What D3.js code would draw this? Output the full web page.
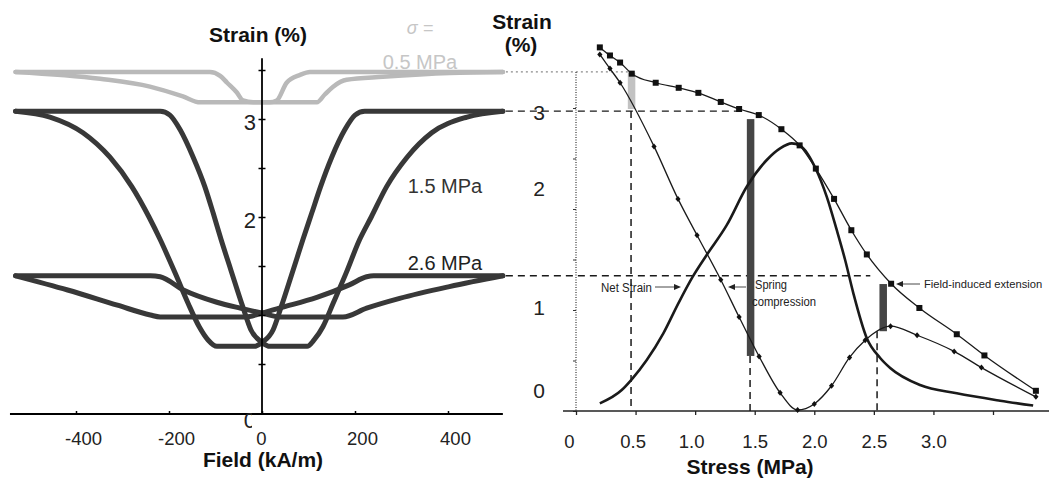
<!DOCTYPE html>
<html><head><meta charset="utf-8">
<script src="https://cdn.jsdelivr.net/npm/d3@7"></script>
<style>body{margin:0;background:#fff}svg{display:block;font-family:"Liberation Sans",Arial,sans-serif}</style>
</head><body><svg id="c" width="1049" height="481"></svg>
<script>
// ---------- data ----------
const fieldTicks = [-400, -200, 0, 200, 400];
const leftStrainTicks = [0.5, 1, 1.5, 2, 2.5, 3, 3.5];
const leftStrainLabels = [0, 2, 3];
const stressTicks = [0, 0.5, 1, 1.5, 2, 2.5, 3, 3.5];
const stressTickLabels = ["0", "0.5", "1.0", "1.5", "2.0", "2.5", "3.0"];
const rightStrainTicks = [0, 0.5, 1, 1.5, 2, 2.5, 3];
const rightStrainLabels = ["0", "1", "2", "3"];
const rightStrainLabelAt = [0.2, 1.02, 2.2, 2.96];

// strain-field loops [field kA/m, strain %], each branch sorted by field
const loop05Up = [[-530,3.48],[-112,3.48],[-90,3.44],[-75,3.37],[-54,3.27],[-41,3.19],[-19,3.17],[118,3.17],[135,3.25],[153,3.33],[182,3.40],[260,3.43],[404,3.47],[518,3.48]];
const loop05Down = [[-530,3.48],[-348,3.41],[-241,3.33],[-170,3.23],[-133,3.17],[17,3.17],[32,3.19],[53,3.37],[82,3.45],[103,3.48],[518,3.48]];
const loop15Up = [[-530,3.08],[-219,3.08],[-198,3.04],[-176,2.89],[-148,2.61],[-123,2.31],[-105,2.04],[-88,1.77],[-67,1.46],[-41,1.08],[-24,0.85],[0,0.72],[17,0.68],[97,0.68],[112,0.745],[131,0.88],[153,1.12],[181,1.43],[210,1.77],[235,2.0],[268,2.31],[312,2.61],[365,2.86],[441,3.02],[518,3.08]];
const loop15Down = [[-530,3.08],[-456,3.02],[-385,2.86],[-327,2.61],[-280,2.31],[-243,2.0],[-219,1.77],[-187,1.43],[-159,1.12],[-135,0.88],[-116,0.745],[-97,0.68],[-17,0.68],[0,0.72],[24,0.85],[41,1.08],[67,1.46],[88,1.77],[107,2.04],[126,2.31],[150,2.61],[178,2.89],[200,3.04],[221,3.08],[518,3.08]];
const loop26Up = [[-530,1.40],[-240,1.40],[-219,1.39],[-169,1.255],[-97,1.13],[-47,1.07],[0,1.02],[39,0.98],[174,0.98],[225,1.07],[296,1.17],[403,1.29],[518,1.40]];
const loop26Down = [[-530,1.40],[-418,1.255],[-311,1.10],[-240,1.00],[-219,0.98],[-36,0.98],[0,1.02],[45,1.08],[118,1.18],[189,1.31],[225,1.39],[240,1.40],[518,1.40]];
const loopSaturation = [3.48, 3.08, 1.40];

// stress curves
const extStress = [0.20,0.285,0.37,0.468,0.669,0.862,1.027,1.215,1.369,1.534,1.724,1.877,2.013,2.166,2.311,2.441,2.645,2.882,3.196,3.428,3.86];
const extStrain = [3.60,3.52,3.45,3.34,3.25,3.20,3.15,3.06,2.99,2.93,2.79,2.63,2.40,2.10,1.79,1.55,1.26,1.02,0.76,0.55,0.20];
const springStress = [0.20,0.285,0.37,0.655,0.856,1.016,1.215,1.369,1.537,1.713,1.86,2.0,2.145,2.296,2.427,2.64,2.863,3.174,3.403,3.86];
const springStrain = [3.53,3.39,3.25,2.62,2.10,1.74,1.30,0.93,0.54,0.18,0.01,0.07,0.25,0.53,0.70,0.84,0.75,0.59,0.43,0.14];
const netStress = [0.20,0.384,0.468,0.594,0.733,0.859,0.980,1.097,1.265,1.433,1.601,1.713,1.811,1.881,2.013,2.105,2.189,2.259,2.328,2.441,2.553,2.637,2.888,3.196,3.56,3.837];
const netStrain = [0.076,0.208,0.314,0.505,0.769,1.066,1.33,1.545,1.84,2.22,2.485,2.60,2.65,2.627,2.396,2.12,1.79,1.495,1.165,0.72,0.525,0.426,0.257,0.175,0.102,0.054];

// bars & guide lines
const barStress = [0.466, 1.465, 2.578];
const barTop = [3.35, 2.89, 1.257];
const barBottom = [2.99, 0.545, 0.79];
const guideStress = [0.462, 1.461, 2.527];
const guideTop = [2.97, 0.545, 0.79];
const connectorEnd = [0.462, 1.37, 2.47];

// ---------- drawing ----------
const svg = d3.select("#c");
const xL = d3.scaleLinear([-400, 400], [76, 448]);
const yL = d3.scaleLinear([0, 3], [413, 119]);
const xR = d3.scaleLinear([0, 3.5], [576, 993]);
const yR = d3.scaleLinear([0, 3], [411, 108]);

const dark = "#383838", gray = "#b9b9b9", ink = "#1a1a1a";

const conn = svg.append("g");
loopSaturation.forEach((s, i) => {
  conn.append("line")
    .attr("x1", xL(518) + 3).attr("x2", xR(connectorEnd[i]))
    .attr("y1", yL(s)).attr("y2", yL(s))
    .attr("stroke", i === 0 ? "#8a8a8a" : ink)
    .attr("stroke-width", i === 0 ? 1.2 : 1.4)
    .attr("stroke-dasharray", i === 0 ? "2,3" : "7,5");
});

// ---- left panel ----
const lineL = d3.line().x(d => xL(d[0])).y(d => yL(d[1])).curve(d3.curveMonotoneX);
const loops = [
  {up: loop05Up, down: loop05Down, c: gray, w: 4.5},
  {up: loop15Up, down: loop15Down, c: dark, w: 5},
  {up: loop26Up, down: loop26Down, c: dark, w: 5}
];
const gl = svg.append("g");
loops.forEach(l => {
  [l.up, l.down].forEach(b => gl.append("path").attr("d", lineL(b))
    .attr("fill", "none").attr("stroke", l.c).attr("stroke-width", l.w)
    .attr("stroke-linejoin", "round").attr("stroke-linecap", "round"));
});

svg.append("line").attr("x1", xL(0)).attr("x2", xL(0)).attr("y1", yL(3.62)).attr("y2", yL(-0.003))
  .attr("stroke", "#000").attr("stroke-width", 1.8);
svg.append("line").attr("x1", xL(-542)).attr("x2", xL(518)).attr("y1", yL(-0.01)).attr("y2", yL(-0.01))
  .attr("stroke", "#000").attr("stroke-width", 1.8);
const ayL = svg.append("g").attr("transform", `translate(${xL(0)},0)`)
  .call(d3.axisLeft(yL).tickValues(leftStrainTicks).tickFormat("").tickSize(3));
ayL.select(".domain").remove();
ayL.selectAll(".tick line").attr("x1", -3.5).attr("x2", 3.5).attr("stroke", "#000").attr("stroke-width", 1.5);

const clip = svg.append("defs").append("clipPath").attr("id", "zc");
clip.append("rect").attr("x", 0).attr("y", 0).attr("width", 252).attr("height", 481);
leftStrainLabels.forEach(v => {
  svg.append("text").attr("x", xL(0) - 6).attr("y", yL(v) + (v === 0 ? 15 : 11))
    .attr("text-anchor", "end").attr("font-size", 22).attr("fill", "#222")
    .attr("clip-path", v === 0 ? "url(#zc)" : null).text(v);
});

const axL = svg.append("g").attr("transform", `translate(0,${yL(-0.01)})`)
  .call(d3.axisBottom(xL).tickValues(fieldTicks).tickSize(-3).tickFormat(d => String(d)));
axL.select(".domain").remove();
axL.selectAll(".tick line").attr("stroke", "#000").attr("stroke-width", 1.5);
axL.selectAll(".tick text").attr("y", 31).attr("dy", 0).attr("font-size", 18.5)
  .attr("font-family", "Liberation Sans, Arial, sans-serif").attr("fill", "#222")
  .attr("dx", d => d === 0 ? -1 : 7);

svg.append("text").attr("x", 258).attr("y", 42).attr("text-anchor", "middle")
  .attr("font-size", 21).attr("font-weight", "bold").attr("fill", "#111").text("Strain (%)");
svg.append("text").attr("x", 263).attr("y", 467).attr("text-anchor", "middle")
  .attr("font-size", 21).attr("font-weight", "bold").attr("fill", "#111").text("Field (kA/m)");

svg.append("text").attr("x", 420).attr("y", 34).attr("text-anchor", "middle")
  .attr("font-size", 18).attr("font-style", "italic").attr("fill", "#c6c6c6").text("σ =");
svg.append("text").attr("x", 420).attr("y", 69).attr("text-anchor", "middle")
  .attr("font-size", 20).attr("fill", "#c6c6c6").text("0.5 MPa");
svg.append("text").attr("x", 445).attr("y", 193).attr("text-anchor", "middle")
  .attr("font-size", 20).attr("fill", "#333").text("1.5 MPa");
svg.append("text").attr("x", 445).attr("y", 270).attr("text-anchor", "middle")
  .attr("font-size", 20).attr("fill", "#222").text("2.6 MPa");

// ---- right panel ----
svg.append("line").attr("x1", xR(0)).attr("x2", xR(0)).attr("y1", yL(3.48)).attr("y2", yR(0))
  .attr("stroke", "#333").attr("stroke-width", 1.2).attr("stroke-dasharray", "1,1.5");
const ayR = svg.append("g").attr("transform", `translate(${xR(0)},0)`)
  .call(d3.axisLeft(yR).tickValues(rightStrainTicks).tickFormat("").tickSize(3));
ayR.select(".domain").remove();
ayR.selectAll(".tick line").attr("stroke", "#333");
rightStrainLabels.forEach((t, i) => {
  svg.append("text").attr("x", 539).attr("y", yR(rightStrainLabelAt[i]) + 7.5)
    .attr("text-anchor", "middle").attr("font-size", 21).attr("fill", "#222").text(t);
});
svg.append("line").attr("x1", 563).attr("x2", 1049).attr("y1", yR(0)).attr("y2", yR(0))
  .attr("stroke", "#222").attr("stroke-width", 1.5);
const axR = svg.append("g").attr("transform", `translate(0,${yR(0)})`)
  .call(d3.axisBottom(xR).tickValues(stressTicks).tickSize(4)
    .tickFormat((d, i) => stressTickLabels[i] || ""));
axR.select(".domain").remove();
axR.selectAll(".tick line").attr("stroke", "#222").attr("stroke-width", 1.3);
axR.selectAll(".tick text").attr("y", 37).attr("dy", 0).attr("font-size", 18.5)
  .attr("font-family", "Liberation Sans, Arial, sans-serif").attr("fill", "#222")
  .attr("dx", (d, i) => i === 0 ? -7 : (i === 1 ? -3 : (i === 2 ? -4 : 0)));

svg.append("text").attr("x", 522).attr("y", 29).attr("text-anchor", "middle")
  .attr("font-size", 21).attr("font-weight", "bold").attr("fill", "#111").text("Strain");
svg.append("text").attr("x", 521).attr("y", 52).attr("text-anchor", "middle")
  .attr("font-size", 21).attr("font-weight", "bold").attr("fill", "#111").text("(%)");
svg.append("text").attr("x", 750).attr("y", 474).attr("text-anchor", "middle")
  .attr("font-size", 21).attr("font-weight", "bold").attr("fill", "#111").text("Stress (MPa)");

guideStress.forEach((s, i) => {
  svg.append("line").attr("x1", xR(s)).attr("x2", xR(s)).attr("y1", yR(guideTop[i])).attr("y2", yR(0))
    .attr("stroke", ink).attr("stroke-width", 1.5).attr("stroke-dasharray", "7,5");
});

barStress.forEach((s, i) => {
  svg.append("rect").attr("x", xR(s) - 3.7).attr("width", 7.5)
    .attr("y", yR(barTop[i])).attr("height", yR(barBottom[i]) - yR(barTop[i]))
    .attr("fill", i === 0 ? "#c2c2c2" : "#454545");
});

const lineR = d3.line().x(d => xR(d[0])).y(d => yR(d[1])).curve(d3.curveMonotoneX);
const ext = extStress.map((s, i) => [s, extStrain[i]]);
const spr = springStress.map((s, i) => [s, springStrain[i]]);
const net = netStress.map((s, i) => [s, netStrain[i]]);
svg.append("path").attr("d", lineR(net)).attr("fill", "none").attr("stroke", ink).attr("stroke-width", 2.6);
svg.append("path").attr("d", lineR(ext)).attr("fill", "none").attr("stroke", ink).attr("stroke-width", 1.3);
svg.append("path").attr("d", lineR(spr)).attr("fill", "none").attr("stroke", ink).attr("stroke-width", 1.3);
svg.append("g").selectAll("rect").data(ext).join("rect")
  .attr("x", d => xR(d[0]) - 3).attr("y", d => yR(d[1]) - 3).attr("width", 6).attr("height", 6).attr("fill", "#111");
svg.append("g").selectAll("path").data(spr).join("path")
  .attr("d", d => `M${xR(d[0])},${yR(d[1]) - 3}l2.6,3l-2.6,3l-2.6,-3z`).attr("fill", "#111");

function arrow(x1, x2, y) {
  const dir = Math.sign(x2 - x1);
  svg.append("line").attr("x1", x1).attr("x2", x2 - dir * 5).attr("y1", y).attr("y2", y)
    .attr("stroke", "#333").attr("stroke-width", 0.9);
  svg.append("path").attr("d", `M${x2},${y}l${-dir * 7},-3l0,6z`).attr("fill", "#222");
}
const ann = (x, y, t, len) => svg.append("text").attr("x", x).attr("y", y).attr("font-size", 12)
  .attr("fill", "#222").attr("textLength", len).attr("lengthAdjust", "spacingAndGlyphs").text(t);
ann(601, 292, "Net Strain", 51);
arrow(655, 681, 287);
ann(755, 289, "Spring", 32);
ann(752, 306, "compression", 64);
arrow(746, 728, 287);
svg.append("text").attr("x", 924).attr("y", 288).attr("font-size", 11.2).attr("fill", "#222")
  .text("Field-induced extension");
arrow(920, 896, 284);
</script></body></html>
